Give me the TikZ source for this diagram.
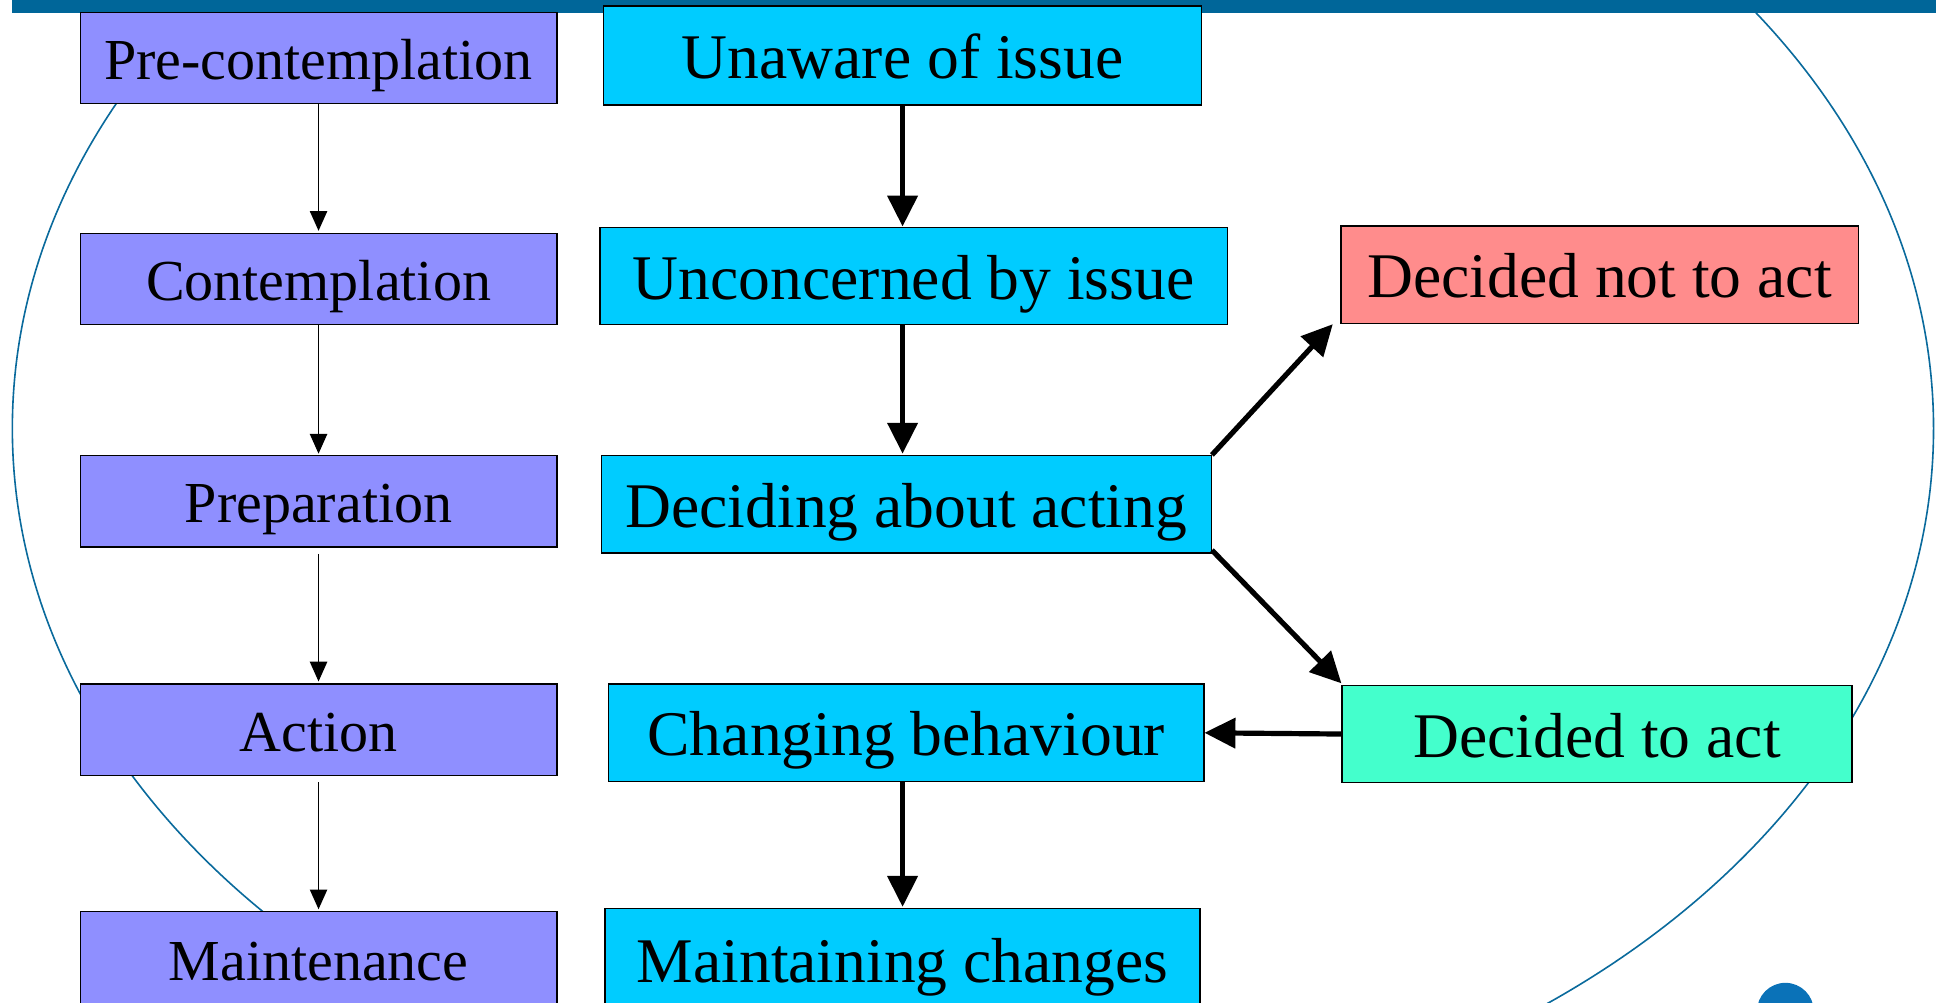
\documentclass[tikz,border=0pt]{standalone}
\usepackage{fontspec}
\setmainfont{Liberation Serif}
\usetikzlibrary{arrows.meta}
\definecolor{barcol}{HTML}{006699}
\definecolor{ellcol}{HTML}{0A6A9C}
\definecolor{stagecol}{HTML}{8F8FFF}
\definecolor{cyancol}{HTML}{00CCFF}
\definecolor{notcol}{HTML}{FF8C8C}
\definecolor{actcol}{HTML}{44FFCC}
\definecolor{blobcol}{HTML}{0A72B8}
\tikzset{
  box/.style={draw=black, line width=1.1pt, inner sep=0pt},
  stagebox/.style={box, fill=stagecol, minimum width=386pt, minimum height=74pt, text height=45pt, text depth=10pt, font=\fontsize{47}{56}\selectfont},
  statebox/.style={box, minimum height=79pt, text height=49pt, text depth=11.5pt, font=\fontsize{51.5}{60}\selectfont},
  thinarrow/.style={line width=1.2pt, -{Triangle[length=16pt,width=14pt]}},
  bigarrow/.style={line width=4.2pt, -{Triangle[length=25pt,width=24pt]}}
}
\begin{document}
\begin{tikzpicture}[x=1pt,y=-1pt]
\useasboundingbox (0,0) rectangle (1568,812);
\clip (0,0) rectangle (1568,812);
% background ellipse
\draw[ellcol, line width=1.3pt] (788,347) ellipse [x radius=778, y radius=581];
% top bar
\fill[barcol] (10,0) rectangle (1568,10.3);
% left column: stages
\node[stagebox] (pre) at (258,47) {Pre-contemplation};
\node[stagebox] (con) at (258,226) {Contemplation};
\node[stagebox] (prep) at (258,406) {Preparation};
\node[stagebox] (act) at (258,591) {Action};
\node[stagebox, minimum height=78pt] (main) at (258,777) {Maintenance};
% middle column
\node[statebox, fill=cyancol, minimum width=484pt, minimum height=80pt] (unaware) at (731,45) {Unaware of issue};
\node[statebox, fill=cyancol, minimum width=508pt] (unconc) at (740,223.5) {Unconcerned by issue};
\node[statebox, fill=cyancol, minimum width=494pt] (decid) at (734,408.5) {Deciding about acting};
\node[statebox, fill=cyancol, minimum width=482pt] (chang) at (734,593.5) {Changing behaviour};
\node[statebox, fill=cyancol, minimum width=482pt, minimum height=82pt] (maint) at (731,777) {Maintaining changes};
% right column
\node[statebox, fill=notcol, minimum width=419pt] (notact) at (1295.5,222.5) {Decided not to act};
\node[statebox, fill=actcol, minimum width=413pt] (toact) at (1293.5,594.5) {Decided to act};
% thin arrows (stages)
\draw[thinarrow, shorten >=1.5pt] (pre.south) -- (con.north);
\draw[thinarrow, shorten >=1pt] (con.south) -- (prep.north);
\draw[thinarrow, shorten <=5pt, shorten >=1.5pt] (prep.south) -- (act.north);
\draw[thinarrow, shorten <=5pt, shorten >=1pt] (act.south) -- (main.north);
% thick arrows (states)
\draw[bigarrow] (unaware.south) -- (unaware.south |- unconc.north);
\draw[bigarrow, shorten >=1pt] (unconc.south -| unaware.south) -- (decid.north -| unaware.south);
\draw[bigarrow, shorten >=1pt] (chang.south -| unaware.south) -- (maint.north -| unaware.south);
\draw[bigarrow] (decid.north east) -- ([xshift=-6pt]notact.south west);
\draw[bigarrow] ([yshift=3pt]decid.south east) -- ([yshift=1pt]toact.north west);
\draw[bigarrow] (toact.west) -- (chang.east);
% logo fragment bottom right
\fill[blobcol] (1446,819) circle [radius=23];
\end{tikzpicture}
\end{document}
